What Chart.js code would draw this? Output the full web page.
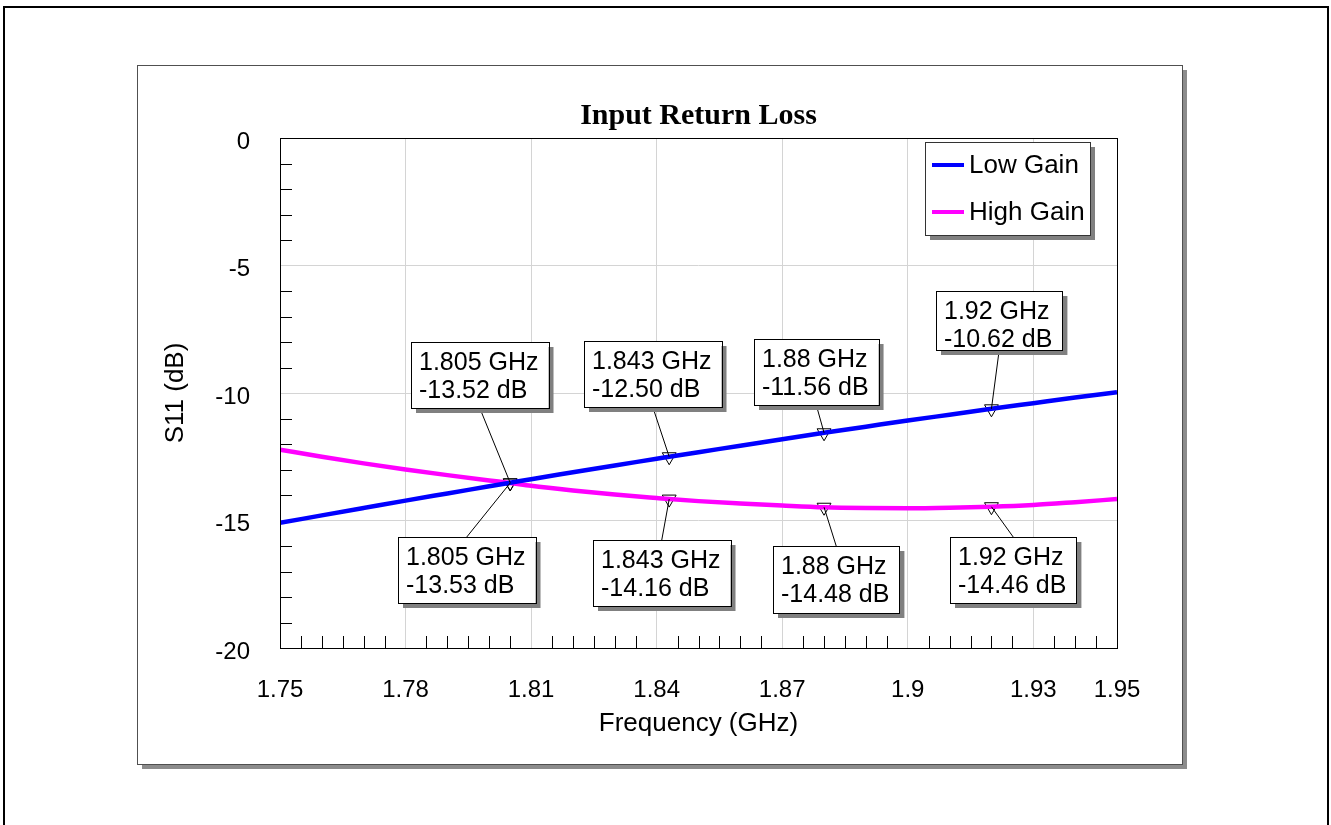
<!DOCTYPE html>
<html>
<head>
<meta charset="utf-8">
<title>Input Return Loss</title>
<script src="https://cdn.jsdelivr.net/npm/chart.js@4.4.0/dist/chart.umd.min.js"></script>
<style>
  html, body { margin: 0; padding: 0; background: #fff; }
  #wrap { width: 1331px; height: 825px; }
</style>
</head>
<body>
<div id="wrap"><canvas id="chart" width="1331" height="825"></canvas></div>
<script>
// Sweep frequencies (GHz) and S11 readings (dB)
const freqs    = [1.75, 1.76, 1.77, 1.78, 1.79, 1.80, 1.805, 1.81, 1.82, 1.83, 1.84, 1.843,
                  1.85, 1.86, 1.87, 1.88, 1.89, 1.90, 1.91, 1.92, 1.93, 1.94, 1.95];
const lowGain  = [-15.09, -14.80, -14.51, -14.22, -13.94, -13.66, -13.52, -13.38, -13.11, -12.84, -12.58, -12.50,
                  -12.32, -12.07, -11.81, -11.56, -11.32, -11.08, -10.85, -10.62, -10.40, -10.18, -9.97];
const highGain = [-12.22, -12.50, -12.76, -13.00, -13.22, -13.43, -13.53, -13.64, -13.82, -13.98, -14.12, -14.16,
                  -14.24, -14.33, -14.41, -14.48, -14.51, -14.52, -14.50, -14.46, -14.39, -14.28, -14.16];

// Marker readouts
const markerFreqs = [1.805, 1.843, 1.88, 1.92];
const lowMarkers  = [-13.52, -12.50, -11.56, -10.62];
const highMarkers = [-13.53, -14.16, -14.48, -14.46];

// Axis ticks
const xTicks      = [1.75, 1.78, 1.81, 1.84, 1.87, 1.9, 1.93, 1.95];
const xTickLabels = ['1.75', '1.78', '1.81', '1.84', '1.87', '1.9', '1.93', '1.95'];
const yTicks      = [-20, -15, -10, -5, 0];
const yTickLabels = ['-20', '-15', '-10', '-5', '0'];

// Callout box placement: [left, top, height] in canvas pixels
const lowBoxes  = [[411, 342, 66], [584, 341, 66], [754, 339, 66], [936, 291, 59]];
const highBoxes = [[398, 537, 66], [593, 540, 66], [773, 546, 67], [950, 537, 66]];

const SANS = '"Liberation Sans", Arial, sans-serif';

function toPoints(xs, ys) {
    return xs.map((x, i) => ({ x: x, y: ys[i] }));
}

// Page frame and the grey-shadowed panel behind the plot
const panelPlugin = {
    id: 'panel',
    beforeDraw(chart) {
        const ctx = chart.ctx;
        ctx.save();
        ctx.fillStyle = '#fff';
        ctx.fillRect(0, 0, chart.width, chart.height);

        ctx.strokeStyle = '#000';
        ctx.lineWidth = 2;
        ctx.beginPath();
        ctx.moveTo(4, 830);
        ctx.lineTo(4, 7);
        ctx.lineTo(1328, 7);
        ctx.lineTo(1328, 830);
        ctx.stroke();

        ctx.fillStyle = '#8c8c8c';
        ctx.fillRect(142, 70, 1045, 699);
        ctx.fillStyle = '#fff';
        ctx.fillRect(137, 65, 1045, 699);
        ctx.strokeStyle = '#505050';
        ctx.lineWidth = 1;
        ctx.strokeRect(137.5, 65.5, 1045, 699);
        ctx.restore();
    }
};

function drawCallout(ctx, box, px, py, lines) {
    const [bx, by, bh] = box;
    ctx.font = '25px ' + SANS;
    const w = Math.max(...lines.map(t => ctx.measureText(t).width)) + 18;

    // leader from box edge to the marker
    const lx = bx + w / 2;
    const ly = by > py ? by : by + bh;
    ctx.strokeStyle = '#000';
    ctx.lineWidth = 1;
    ctx.beginPath();
    ctx.moveTo(lx, ly);
    ctx.lineTo(px, py);
    ctx.stroke();

    ctx.fillStyle = '#808080';
    ctx.fillRect(bx + 5, by + 5, w, bh);
    ctx.fillStyle = '#fff';
    ctx.fillRect(bx, by, w, bh);
    ctx.strokeRect(Math.round(bx) + 0.5, Math.round(by) + 0.5, Math.round(w), bh);

    ctx.fillStyle = '#000';
    ctx.textAlign = 'left';
    ctx.textBaseline = 'middle';
    ctx.fillText(lines[0], bx + 8, by + 21);
    ctx.fillText(lines[1], bx + 8, by + 49);
}

// Plot frame, inward minor ticks and marker callouts
const overlayPlugin = {
    id: 'overlay',
    afterDatasetsDraw(chart) {
        const ctx = chart.ctx;
        const a = chart.chartArea;
        const xs = chart.scales.x;
        const ys = chart.scales.y;
        ctx.save();

        ctx.strokeStyle = '#000';
        ctx.lineWidth = 1;
        ctx.beginPath();
        for (let k = 1; k < 40; k++) {
            if (k % 6 === 0) continue;
            const v = 1.75 + k * 0.005;
            const px = Math.round(xs.getPixelForValue(v)) + 0.5;
            ctx.moveTo(px, a.bottom);
            ctx.lineTo(px, a.bottom - 12);
        }
        for (let v = -19; v <= -1; v++) {
            if (v % 5 === 0) continue;
            const py = Math.round(ys.getPixelForValue(v)) + 0.5;
            ctx.moveTo(a.left, py);
            ctx.lineTo(a.left + 12, py);
        }
        ctx.stroke();
        ctx.strokeRect(Math.round(a.left) + 0.5, Math.round(a.top) + 0.5,
                       Math.round(a.right - a.left), Math.round(a.bottom - a.top));

        markerFreqs.forEach((f, i) => {
            drawCallout(ctx, lowBoxes[i], xs.getPixelForValue(f), ys.getPixelForValue(lowMarkers[i]),
                        [f + ' GHz', lowMarkers[i].toFixed(2) + ' dB']);
            drawCallout(ctx, highBoxes[i], xs.getPixelForValue(f), ys.getPixelForValue(highMarkers[i]),
                        [f + ' GHz', highMarkers[i].toFixed(2) + ' dB']);
        });
        ctx.restore();
    },
    afterDraw(chart) {
        // legend box in the upper right of the plot
        const ctx = chart.ctx;
        const ds = chart.data.datasets;
        ctx.save();
        ctx.fillStyle = '#808080';
        ctx.fillRect(930, 147, 165, 93);
        ctx.fillStyle = '#fff';
        ctx.fillRect(925, 142, 165, 93);
        ctx.strokeStyle = '#333';
        ctx.lineWidth = 1;
        ctx.strokeRect(925.5, 142.5, 165, 93);
        ctx.font = '26px ' + SANS;
        ctx.textAlign = 'left';
        ctx.textBaseline = 'middle';
        [0, 1].forEach((d, i) => {
            const y = 165 + i * 47;
            ctx.strokeStyle = ds[d].borderColor;
            ctx.lineWidth = 4;
            ctx.beginPath();
            ctx.moveTo(932, y);
            ctx.lineTo(964, y);
            ctx.stroke();
            ctx.fillStyle = '#000';
            ctx.fillText(ds[d].label, 969, y + 1);
        });
        ctx.restore();
    }
};

const markerStyle = {
    type: 'line',
    showLine: false,
    pointStyle: 'triangle',
    pointRotation: 180,
    pointRadius: 8,
    pointBorderWidth: 1,
    pointBorderColor: '#000',
    pointBackgroundColor: 'rgba(0,0,0,0)'
};

new Chart(document.getElementById('chart'), {
    type: 'line',
    data: {
        datasets: [
            {
                label: 'Low Gain',
                data: toPoints(freqs, lowGain),
                borderColor: '#0000ff',
                borderWidth: 4.5,
                pointRadius: 0,
                cubicInterpolationMode: 'monotone'
            },
            {
                label: 'High Gain',
                data: toPoints(freqs, highGain),
                borderColor: '#ff00ff',
                borderWidth: 4.5,
                pointRadius: 0,
                cubicInterpolationMode: 'monotone'
            },
            Object.assign({ label: 'Low markers', data: toPoints(markerFreqs, lowMarkers) }, markerStyle),
            Object.assign({ label: 'High markers', data: toPoints(markerFreqs, highMarkers) }, markerStyle)
        ]
    },
    options: {
        responsive: false,
        animation: false,
        devicePixelRatio: 1,
        events: [],
        layout: { padding: { left: 0, top: 0, right: 214, bottom: 0 } },
        plugins: {
            legend: { display: false },
            tooltip: { enabled: false },
            title: {
                display: true,
                text: 'Input Return Loss',
                color: '#000',
                fullSize: false,
                font: { family: '"Liberation Serif", "Times New Roman", serif', size: 30, weight: 'bold', lineHeight: 1.2 },
                padding: { top: 98, bottom: 4 }
            }
        },
        scales: {
            x: {
                type: 'linear',
                min: 1.75,
                max: 1.95,
                afterBuildTicks: s => { s.ticks = xTicks.map(v => ({ value: v })); },
                afterFit: s => { s.height = 177; },
                ticks: {
                    callback: (v, i) => xTickLabels[i],
                    color: '#000',
                    font: { family: SANS, size: 24 },
                    padding: 28,
                    maxRotation: 0,
                    autoSkip: false
                },
                grid: { color: '#d4d4d4', drawTicks: false },
                border: { display: false },
                title: {
                    display: true,
                    text: 'Frequency (GHz)',
                    color: '#000',
                    font: { family: SANS, size: 26, lineHeight: 1.2 },
                    padding: { top: 0, bottom: 86 }
                }
            },
            y: {
                type: 'linear',
                min: -20,
                max: 0,
                afterBuildTicks: s => { s.ticks = yTicks.map(v => ({ value: v })); },
                afterFit: s => { s.width = 280; },
                ticks: {
                    callback: (v, i) => yTickLabels[i],
                    color: '#000',
                    font: { family: SANS, size: 24 },
                    padding: 30,
                    labelOffset: 4
                },
                grid: { color: '#d4d4d4', drawTicks: false },
                border: { display: false },
                title: {
                    display: true,
                    text: 'S11 (dB)',
                    color: '#000',
                    font: { family: SANS, size: 26, lineHeight: 1.2 },
                    padding: { top: 160, bottom: 0 }
                }
            }
        }
    },
    plugins: [panelPlugin, overlayPlugin]
});
</script>
</body>
</html>
